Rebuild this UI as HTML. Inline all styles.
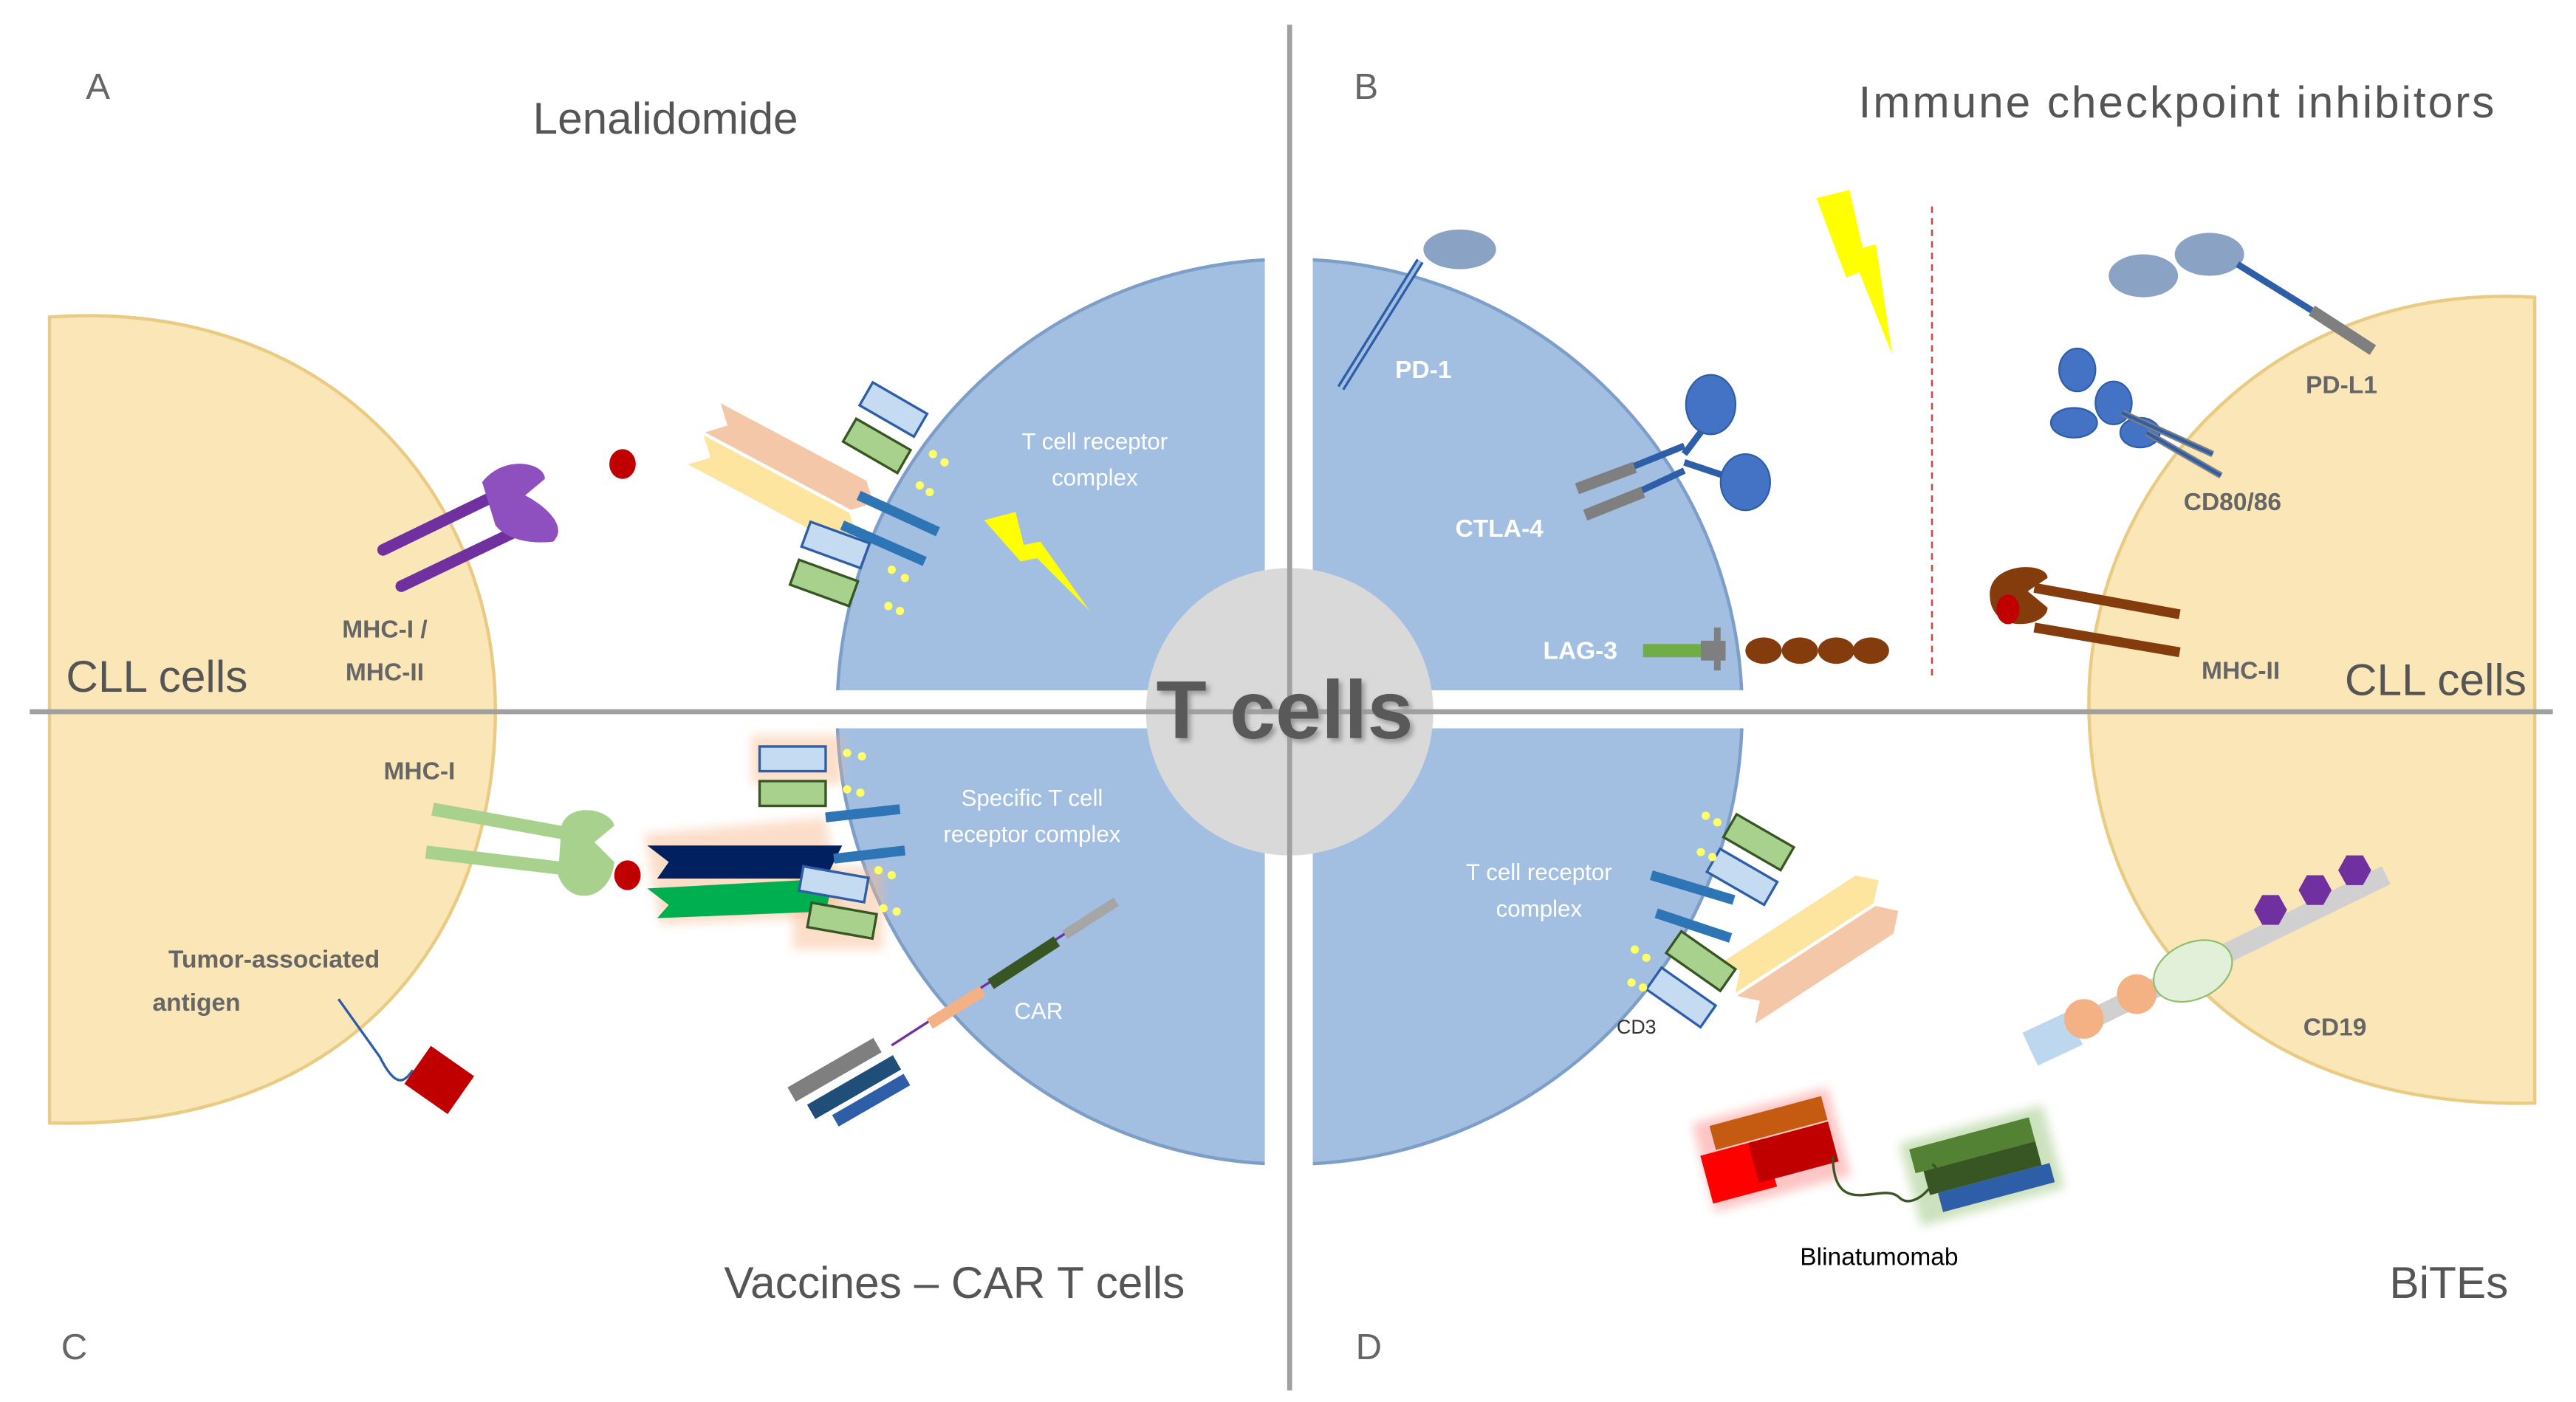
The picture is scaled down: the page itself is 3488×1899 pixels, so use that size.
<!DOCTYPE html>
<html><head><meta charset="utf-8"><style>
html,body{margin:0;padding:0;background:#fff;width:3488px;height:1899px;overflow:hidden}
svg{display:block}
text{font-family:"Liberation Sans",sans-serif}
</style></head><body>
<svg width="3488" height="1899" viewBox="0 0 1560 849" preserveAspectRatio="none" xmlns="http://www.w3.org/2000/svg">
<defs>
<clipPath id="tl"><rect x="0" y="0" width="766" height="418"/></clipPath>
<clipPath id="bl"><rect x="0" y="441" width="766" height="420"/></clipPath>
<clipPath id="tr"><rect x="795" y="0" width="800" height="418"/></clipPath>
<clipPath id="br"><rect x="795" y="441" width="800" height="420"/></clipPath>
<filter id="sh"><feGaussianBlur stdDeviation="1.5"/></filter>
<filter id="glow" x="-30%" y="-30%" width="160%" height="160%"><feGaussianBlur stdDeviation="3"/></filter>
</defs>
<path d="M30,192 C200,180 300,300 300,430 C300,570 210,685 30,680 Z" fill="#fbe6b8" stroke="#eacb83" stroke-width="2"/>
<path d="M1535,180 C1370,170 1265,300 1265,425 C1265,565 1360,672 1535,668 Z" fill="#fbe6b8" stroke="#eacb83" stroke-width="2"/>
<g fill="#a2bfe2" stroke="#7d9ec9" stroke-width="2">
<circle cx="781" cy="431" r="274" clip-path="url(#tl)"/>
<circle cx="781" cy="431" r="274" clip-path="url(#bl)"/>
<circle cx="781" cy="431" r="274" clip-path="url(#tr)"/>
<circle cx="781" cy="431" r="274" clip-path="url(#br)"/>
</g>
<rect x="766" y="150" width="29" height="560" fill="#fff"/>
<rect x="490" y="418" width="580" height="23" fill="#fff"/>
<circle cx="781" cy="431" r="87" fill="#d9d9d9"/>
<line x1="781" y1="15" x2="781" y2="842" stroke="#a0a0a0" stroke-width="3"/>
<line x1="18" y1="431" x2="1546" y2="431" stroke="#a0a0a0" stroke-width="3"/>
<line x1="1170" y1="125" x2="1170" y2="412" stroke="#c0504d" stroke-width="1.2" stroke-dasharray="4,3"/>

<g stroke="#7030a0" stroke-width="7" stroke-linecap="round">
<line x1="232" y1="333" x2="300" y2="300"/>
<line x1="243" y1="355" x2="312" y2="322"/>
</g>
<path d="M292,292 C305,275 330,280 330,290 L318,300 C328,305 345,318 335,328 C318,330 305,325 300,318 Z" fill="#8e4fbf"/>
<ellipse cx="377" cy="281" rx="8" ry="9" fill="#c00000"/>
<g transform="rotate(28 480 290)">
<path d="M420,270 L430,280 L420,290 L520,290 L530,280 L520,270 Z" fill="#f4c7a8"/>
<path d="M420,292 L430,302 L420,312 L520,312 L530,302 L520,292 Z" fill="#fde49f"/>
</g>
<g stroke="#2e75b6" stroke-width="6"><line x1="520" y1="300" x2="568" y2="322"/><line x1="510" y1="318" x2="560" y2="340"/></g>
<g stroke-width="1.5">
<rect x="522" y="240" width="38" height="16" transform="rotate(30 541 248)" fill="#c5dbf2" stroke="#2e5ea8"/>
<rect x="512" y="262" width="38" height="16" transform="rotate(30 531 270)" fill="#a9d18e" stroke="#375623"/>
<rect x="487" y="322" width="38" height="16" transform="rotate(20 506 330)" fill="#c5dbf2" stroke="#2e5ea8"/>
<rect x="480" y="345" width="38" height="16" transform="rotate(20 499 353)" fill="#a9d18e" stroke="#375623"/>
</g>
<g fill="#ffff66"><circle cx="565" cy="275" r="2.5"/><circle cx="572" cy="280" r="2.5"/><circle cx="557" cy="294" r="2.5"/><circle cx="563" cy="298" r="2.5"/><circle cx="540" cy="345" r="2.5"/><circle cx="548" cy="350" r="2.5"/><circle cx="538" cy="367" r="2.5"/><circle cx="545" cy="370" r="2.5"/></g>
<polygon points="596,315 615,310 620,330 630,328 660,370 628,338 618,340" fill="#ffff00"/>

<line x1="812" y1="235" x2="860" y2="158" stroke="#2e5ea8" stroke-width="5"/>
<line x1="812" y1="235" x2="860" y2="158" stroke="#a2bfe2" stroke-width="2"/>
<ellipse cx="884" cy="151" rx="22" ry="12" fill="#8aa2c4"/>
<polygon points="1100,120 1120,115 1128,150 1136,148 1146,215 1126,165 1118,168" fill="#ffff00"/>
<g stroke="#2e5ea8" stroke-width="4"><line x1="958" y1="295" x2="1020" y2="270"/><line x1="962" y1="312" x2="1020" y2="285"/></g>
<g stroke="#7f7f7f" stroke-width="7"><line x1="955" y1="296" x2="990" y2="283"/><line x1="960" y1="312" x2="995" y2="298"/></g>
<path d="M1020,275 L1035,255 M1020,280 L1050,290" stroke="#2e5ea8" stroke-width="4" fill="none"/>
<ellipse cx="1036" cy="245" rx="15" ry="18" fill="#4472c4" stroke="#2e5ea8"/>
<ellipse cx="1057" cy="292" rx="15" ry="17" fill="#4472c4" stroke="#2e5ea8"/>
<rect x="995" y="390" width="35" height="8" fill="#70ad47"/>
<rect x="1030" y="388" width="15" height="12" fill="#7f7f7f"/>
<line x1="1040" y1="380" x2="1040" y2="406" stroke="#7f7f7f" stroke-width="4"/>
<g fill="#843c0c"><ellipse cx="1068" cy="394" rx="11" ry="8"/><ellipse cx="1090" cy="394" rx="11" ry="8"/><ellipse cx="1112" cy="394" rx="11" ry="8"/><ellipse cx="1133" cy="394" rx="11" ry="8"/></g>
<ellipse cx="1298" cy="167" rx="21" ry="13" fill="#8aa2c4"/>
<ellipse cx="1338" cy="154" rx="21" ry="13" fill="#8aa2c4"/>
<line x1="1355" y1="160" x2="1400" y2="188" stroke="#2e5ea8" stroke-width="4"/>
<line x1="1400" y1="188" x2="1437" y2="212" stroke="#7f7f7f" stroke-width="7"/>
<g fill="#4472c4" stroke="#2e5ea8"><ellipse cx="1258" cy="224" rx="11" ry="13"/><ellipse cx="1280" cy="244" rx="11" ry="13"/><ellipse cx="1256" cy="256" rx="14" ry="9"/><ellipse cx="1296" cy="262" rx="12" ry="9"/></g>
<g stroke="#7f7f7f" stroke-width="4"><line x1="1285" y1="250" x2="1340" y2="275"/><line x1="1300" y1="262" x2="1345" y2="288"/></g>
<g stroke="#2e5ea8" stroke-width="2"><line x1="1285" y1="250" x2="1340" y2="275"/><line x1="1300" y1="262" x2="1345" y2="288"/></g>
<path d="M1205,360 C1205,340 1240,340 1240,350 L1228,358 L1240,368 C1240,380 1205,385 1205,360Z" fill="#843c0c"/>
<g stroke="#843c0c" stroke-width="6"><line x1="1232" y1="356" x2="1320" y2="372"/><line x1="1232" y1="380" x2="1320" y2="395"/></g>
<ellipse cx="1216" cy="369" rx="7" ry="9" fill="#c00000"/>

<g stroke="#a9d18e" stroke-width="8"><line x1="262" y1="490" x2="345" y2="505"/><line x1="258" y1="516" x2="342" y2="526"/></g>
<path d="M340,500 C345,485 370,490 372,500 L360,510 L372,522 C370,545 345,550 338,530 Z" fill="#a9d18e"/>
<ellipse cx="380" cy="530" rx="8" ry="9" fill="#c00000"/>
<path d="M390,505 L500,495 L510,555 L400,560 Z" fill="#f8b88a" opacity="0.45" filter="url(#glow)"/>
<rect x="455" y="445" width="55" height="30" fill="#f8b88a" opacity="0.45" filter="url(#glow)"/>
<rect x="480" y="525" width="55" height="50" fill="#f8b88a" opacity="0.45" filter="url(#glow)"/>
<path d="M392,512 L405,522 L398,532 L500,532 L510,512 Z" fill="#002060"/>
<path d="M392,538 L405,548 L398,556 L500,552 L505,532 Z" fill="#00b050"/>
<g stroke="#2e75b6" stroke-width="6"><line x1="500" y1="495" x2="545" y2="490"/><line x1="505" y1="520" x2="548" y2="515"/></g>
<g stroke-width="1.5">
<rect x="460" y="452" width="40" height="15" fill="#c5dbf2" stroke="#2e5ea8"/>
<rect x="460" y="473" width="40" height="15" fill="#a9d18e" stroke="#375623"/>
<rect x="485" y="528" width="40" height="15" transform="rotate(10 505 535)" fill="#c5dbf2" stroke="#2e5ea8"/>
<rect x="490" y="550" width="40" height="15" transform="rotate(10 510 557)" fill="#a9d18e" stroke="#375623"/>
</g>
<g fill="#ffff66"><circle cx="513" cy="456" r="2.5"/><circle cx="522" cy="458" r="2.5"/><circle cx="513" cy="478" r="2.5"/><circle cx="521" cy="480" r="2.5"/><circle cx="532" cy="527" r="2.5"/><circle cx="540" cy="530" r="2.5"/><circle cx="535" cy="550" r="2.5"/><circle cx="543" cy="552" r="2.5"/></g>
<path d="M205,605 L230,640 C240,660 245,655 250,648" stroke="#2e5ea8" stroke-width="1.5" fill="none"/>
<rect x="250" y="640" width="32" height="28" transform="rotate(35 266 654)" fill="#c00000"/>
<line x1="540" y1="633" x2="675" y2="546" stroke="#7030a0" stroke-width="1.5"/>
<line x1="563" y1="620" x2="595" y2="600" stroke="#f4b183" stroke-width="7"/>
<line x1="600" y1="596" x2="640" y2="570" stroke="#375623" stroke-width="7"/>
<line x1="645" y1="566" x2="676" y2="546" stroke="#a6a6a6" stroke-width="6"/>
<g transform="rotate(-30 513 655)">
<rect x="480" y="640" width="60" height="10" fill="#7f7f7f"/>
<rect x="485" y="655" width="60" height="10" fill="#1f4e79"/>
<rect x="495" y="668" width="50" height="8" fill="#2e5ea8"/>
</g>

<g transform="rotate(-33 1090 570)">
<path d="M1040,555 L1050,565 L1040,575 L1140,575 L1150,565 L1140,555 Z" fill="#fde49f"/>
<path d="M1040,577 L1050,587 L1040,597 L1140,597 L1150,587 L1140,577 Z" fill="#f4c7a8"/>
</g>
<g stroke="#2e75b6" stroke-width="6"><line x1="1000" y1="530" x2="1050" y2="545"/><line x1="1003" y1="553" x2="1048" y2="568"/></g>
<g stroke-width="1.5">
<rect x="1045" y="502" width="40" height="16" transform="rotate(30 1065 510)" fill="#a9d18e" stroke="#375623"/>
<rect x="1035" y="523" width="40" height="16" transform="rotate(30 1055 531)" fill="#c5dbf2" stroke="#2e5ea8"/>
<rect x="1010" y="574" width="40" height="16" transform="rotate(35 1030 582)" fill="#a9d18e" stroke="#375623"/>
<rect x="998" y="596" width="40" height="16" transform="rotate(35 1018 604)" fill="#c5dbf2" stroke="#2e5ea8"/>
</g>
<g fill="#ffff66"><circle cx="1033" cy="494" r="2.5"/><circle cx="1040" cy="498" r="2.5"/><circle cx="1030" cy="516" r="2.5"/><circle cx="1037" cy="519" r="2.5"/><circle cx="990" cy="575" r="2.5"/><circle cx="997" cy="580" r="2.5"/><circle cx="988" cy="595" r="2.5"/><circle cx="995" cy="598" r="2.5"/></g>
<line x1="1230" y1="635" x2="1445" y2="530" stroke="#d0d0d0" stroke-width="12"/>
<rect x="1228" y="618" width="30" height="22" transform="rotate(-25 1243 629)" fill="#bdd7ee"/>
<circle cx="1262" cy="617" r="12" fill="#f4b183"/>
<circle cx="1294" cy="602" r="12" fill="#f4b183"/>
<ellipse cx="1328" cy="588" rx="25" ry="17" transform="rotate(-25 1328 588)" fill="#e2efd9" stroke="#8fbf6f"/>
<g fill="#7030a0"><polygon points="1370,542 1380,542 1385,551 1380,560 1370,560 1365,551"/><polygon points="1397,530 1407,530 1412,539 1407,548 1397,548 1392,539"/><polygon points="1421,518 1431,518 1436,527 1431,536 1421,536 1416,527"/></g>
<g transform="rotate(-15 1075 695)">
<rect x="1030" y="668" width="85" height="55" fill="#ff4040" opacity="0.3" filter="url(#glow)"/>
<rect x="1040" y="672" width="70" height="15" fill="#c55a11"/>
<rect x="1030" y="688" width="40" height="30" fill="#ff0000"/>
<rect x="1060" y="688" width="50" height="25" fill="#c00000"/>
</g>
<g transform="rotate(-15 1200 705)">
<rect x="1155" y="680" width="90" height="52" fill="#70ad47" opacity="0.35" filter="url(#glow)"/>
<rect x="1160" y="685" width="75" height="15" fill="#548235"/>
<rect x="1165" y="700" width="70" height="15" fill="#375623"/>
<rect x="1170" y="715" width="70" height="12" fill="#2e5ea8"/>
</g>
<path d="M1110,700 C1110,740 1140,715 1150,725 C1160,735 1180,710 1170,705" stroke="#375623" stroke-width="1.5" fill="none"/>

<g fill="#666" font-size="22"><text x="52" y="60">A</text><text x="820" y="60">B</text><text x="37" y="823">C</text><text x="821" y="823">D</text></g>
<g fill="#555" font-size="27" text-anchor="middle">
<text x="403" y="81">Lenalidomide</text>
<text x="1318" y="71" textLength="385">Immune checkpoint inhibitors</text>
<text x="578" y="786">Vaccines – CAR T cells</text>
<text x="1483" y="786">BiTEs</text>
<text x="95" y="419">CLL cells</text>
<text x="1475" y="421">CLL cells</text>
</g>
<text x="778" y="447" text-anchor="middle" font-size="50" font-weight="bold" fill="#999" filter="url(#sh)" transform="translate(2,2)">T cells</text>
<text x="778" y="447" text-anchor="middle" font-size="50" font-weight="bold" fill="#595959">T cells</text>
<g fill="#fff" font-size="14" text-anchor="middle">
<text x="663" y="272">T cell receptor</text><text x="663" y="294">complex</text>
<text x="625" y="488">Specific T cell</text><text x="625" y="510">receptor complex</text>
<text x="629" y="617">CAR</text>
<text x="932" y="533">T cell receptor</text><text x="932" y="555">complex</text>
</g>
<g fill="#fff" font-size="15" font-weight="bold" text-anchor="middle">
<text x="862" y="229">PD-1</text><text x="908" y="325">CTLA-4</text><text x="957" y="399">LAG-3</text>
</g>
<g fill="#666" font-size="15" font-weight="bold" text-anchor="middle">
<text x="1418" y="238">PD-L1</text><text x="1352" y="309">CD80/86</text><text x="1357" y="411">MHC-II</text><text x="1414" y="627">CD19</text>
<text x="233" y="386">MHC-I /</text><text x="233" y="412">MHC-II</text><text x="254" y="472">MHC-I</text>
<text x="166" y="586">Tumor-associated</text><text x="119" y="612">antigen</text>
</g>
<text x="991" y="626" font-size="12" fill="#333" text-anchor="middle">CD3</text>
<text x="1138" y="766" font-size="15" fill="#000" text-anchor="middle">Blinatumomab</text>
</svg>
</body></html>
